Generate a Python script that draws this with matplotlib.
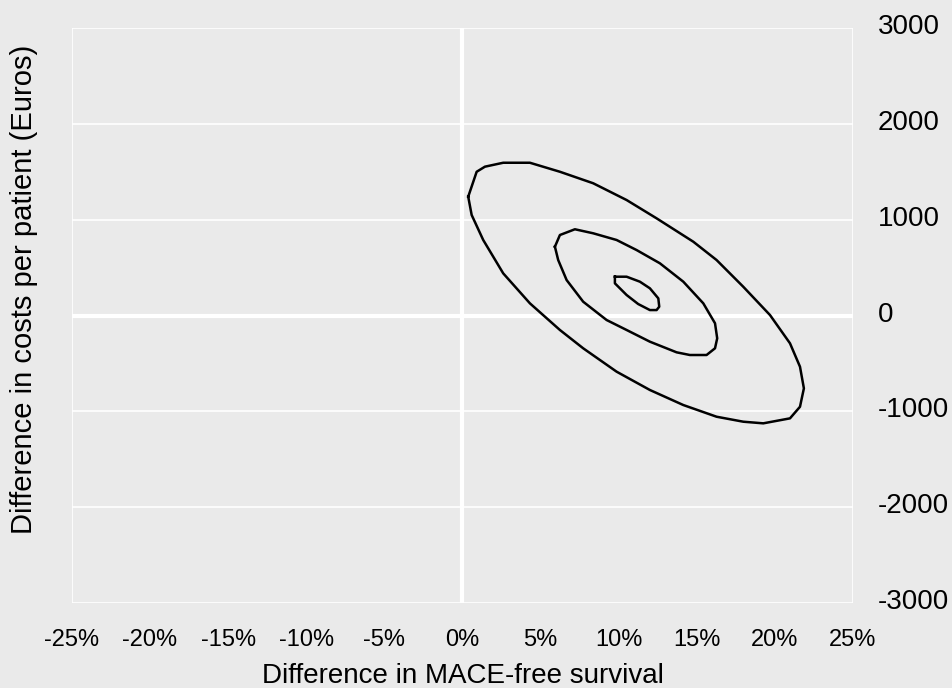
import matplotlib
matplotlib.use("Agg")
import matplotlib.pyplot as plt
from matplotlib.ticker import PercentFormatter, MultipleLocator
from matplotlib.transforms import ScaledTranslation

plt.rcParams['font.family'] = ['Liberation Sans', 'DejaVu Sans']
plt.rcParams['axes.unicode_minus'] = False

# confidence ellipses: difference in MACE-free survival (%) vs cost difference (Euros)
outer_x = [0.37, 0.91, 1.44, 2.61, 4.32, 6.24, 8.37, 10.51, 12.43, 14.78, 16.27, 17.98,
           19.69, 20.97, 21.61, 21.86, 21.61, 20.97, 19.26, 17.98, 16.27, 14.14, 12.00,
           9.87, 7.73, 6.24, 4.32, 2.61, 1.33, 0.59, 0.37]
outer_y = [1240, 1500, 1553, 1594, 1594, 1500, 1380, 1205, 1014, 770, 579, 300,
           5, -290, -534, -760, -952, -1073, -1125, -1108, -1056, -934, -777,
           -586, -342, -151, 127, 440, 788, 1049, 1240]

middle_x = [5.92, 6.24, 7.20, 8.37, 9.87, 11.15, 12.64, 14.14, 15.42, 16.17, 16.31,
            16.17, 15.63, 14.56, 13.71, 12.00, 10.51, 9.23, 7.73, 6.67, 6.13, 5.92]
middle_y = [718, 840, 900, 858, 788, 683, 545, 353, 127, -81, -238,
            -342, -412, -412, -384, -273, -151, -47, 144, 370, 579, 718]

inner_x = [9.76, 10.51, 11.36, 12.00, 12.54, 12.60, 12.43, 12.00, 11.25, 10.51, 9.76, 9.76]
inner_y = [405, 405, 353, 284, 179, 92, 57, 57, 120, 214, 336, 405]

bg = '#eaeaea'
fig = plt.figure(figsize=(9.53, 6.88), dpi=100, facecolor=bg)
ax = fig.add_axes([0.0755, 0.1235, 0.8195, 0.8358], facecolor=bg)

# gridlines and plot border in white
for yv in [-3000, -2000, -1000, 1000, 2000, 3000]:
    ax.axhline(yv, color='white', lw=1.2, zorder=1)
for xv in [-25, 25]:
    ax.axvline(xv, color='white', lw=1.2, zorder=1)
ax.axhline(0, color='white', lw=3, zorder=1)
ax.axvline(0, color='white', lw=3, zorder=1)

for xs, ys in [(outer_x, outer_y), (middle_x, middle_y), (inner_x, inner_y)]:
    ax.plot(xs, ys, color='black', lw=1.8, zorder=3, solid_joinstyle='round')

ax.set_xlim(-25, 25)
ax.set_ylim(-3000, 3000)
ax.xaxis.set_major_locator(MultipleLocator(5))
ax.xaxis.set_major_formatter(PercentFormatter(100, decimals=0))
ax.yaxis.set_major_locator(MultipleLocator(1000))
ax.yaxis.tick_right()

for s in ax.spines.values():
    s.set_visible(False)
ax.tick_params(axis='x', length=0, pad=19, labelsize=17)
ax.tick_params(axis='y', length=0, pad=18, labelsize=20)

ax.set_xlabel('Difference in MACE-free survival', fontsize=20, labelpad=8)
ax.set_ylabel('Difference in costs per patient (Euros)', fontsize=21)
ax.yaxis.set_label_coords(-0.044, 0.545)

# nudge the cost labels up a little
fig.canvas.draw()
shift = ScaledTranslation(0, 4 / 100, fig.dpi_scale_trans)
for lbl in ax.get_yticklabels():
    lbl.set_transform(lbl.get_transform() + shift)

fig.savefig('out.png', dpi=100, facecolor=bg)
